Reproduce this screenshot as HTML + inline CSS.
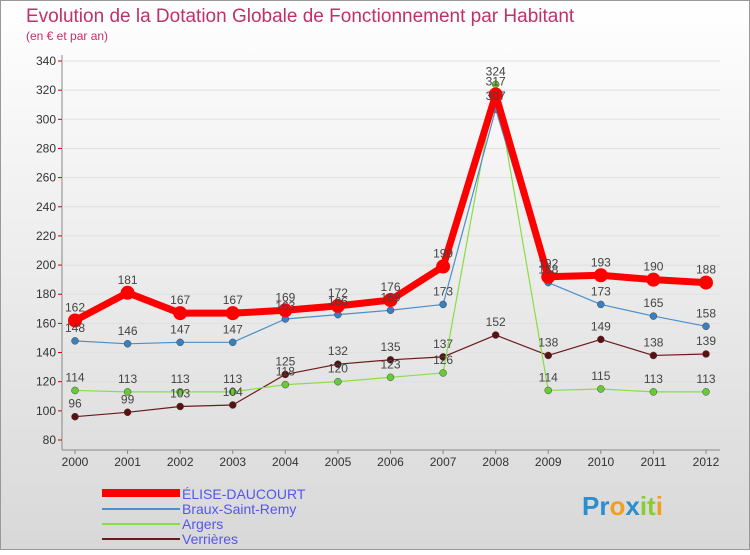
<!DOCTYPE html>
<html><head><meta charset="utf-8"><style>
body{margin:0;width:750px;height:550px;overflow:hidden;font-family:"Liberation Sans",sans-serif}
</style></head><body>
<svg width="750" height="550" xmlns="http://www.w3.org/2000/svg">
<defs><linearGradient id="bg" x1="0" y1="0" x2="0" y2="1"><stop offset="0" stop-color="#ffffff"/><stop offset="1" stop-color="#d8d8d8"/></linearGradient></defs>
<rect x="0" y="0" width="750" height="550" fill="url(#bg)"/>
<rect x="0.5" y="0.5" width="749" height="549" fill="none" stroke="#999"/>
<text x="26" y="22" font-size="19" fill="#c0306a">Evolution de la Dotation Globale de Fonctionnement par Habitant</text>
<text x="26" y="40" font-size="12" fill="#c0306a">(en € et par an)</text>
<g id="grid"></g><g id="series"></g><g id="labels"></g>
<g font-size="14">
<line x1="102" y1="493" x2="180" y2="493" stroke="#ff0000" stroke-width="8"/><text x="182" y="499" fill="#5555ee">ÉLISE-DAUCOURT</text>
<line x1="102" y1="509" x2="180" y2="509" stroke="#4a90cc" stroke-width="2"/><text x="182" y="514" fill="#5555ee">Braux-Saint-Remy</text>
<line x1="102" y1="524" x2="180" y2="524" stroke="#88dd44" stroke-width="2"/><text x="182" y="529" fill="#5555ee">Argers</text>
<line x1="102" y1="539" x2="180" y2="539" stroke="#6b1a1a" stroke-width="2"/><text x="182" y="544" fill="#5555ee">Verrières</text>
</g>
<text x="582" y="515" font-size="26" font-weight="bold"><tspan fill="#2a8fd0">Pr</tspan><tspan fill="#f0a020">o</tspan><tspan fill="#2a8fd0">x</tspan><tspan fill="#88cc33">it</tspan><tspan fill="#f0a020">i</tspan></text>
</svg>
<script>
const years=[2000,2001,2002,2003,2004,2005,2006,2007,2008,2009,2010,2011,2012];
const elise=[162,181,167,167,169,172,176,199,317,192,193,190,188];
const braux=[148,146,147,147,163,166,169,173,307,188,173,165,158];
const argers=[114,113,113,113,118,120,123,126,324,114,115,113,113];
const verrieres=[96,99,103,104,125,132,135,137,152,138,149,138,139];
const yTicks=[80,100,120,140,160,180,200,220,240,260,280,300,320,340];
const NS="http://www.w3.org/2000/svg";
const x=i=>75+i*(706-75)/12;
const y=v=>440-(v-80)*(440-61)/260;
function mk(t,a,p){const e=document.createElementNS(NS,t);for(const k in a)e.setAttribute(k,a[k]);p.appendChild(e);return e;}
const g=document.getElementById('grid'),s=document.getElementById('series'),L=document.getElementById('labels');
const ax=mk('line',{x1:62,y1:55,x2:62,y2:450,stroke:'#888'},g);

const bx=mk('line',{x1:62,y1:450,x2:720,y2:450,stroke:'#888'},g);

yTicks.forEach(v=>{
 const gl=mk('line',{x1:62,y1:y(v),x2:720,y2:y(v),stroke:'#e0e0e0'},g);
 
 mk('line',{x1:58,y1:y(v),x2:62,y2:y(v),stroke:'#c00'},g);
 const t=mk('text',{x:56,y:y(v)+4,'text-anchor':'end','font-size':12,fill:'#333'},g);t.textContent=v;
 
});
years.forEach((yr,i)=>{
 mk('line',{x1:x(i),y1:450,x2:x(i),y2:454,stroke:'#888'},g);
 const t=mk('text',{x:x(i),y:466,'text-anchor':'middle','font-size':12,fill:'#333'},g);t.textContent=yr;
 
});
const defs=[['verrieres',verrieres,'#6b1a1a',1.2,3.5,'#5a1010'],['argers',argers,'#88dd44',1.2,3.5,'#66cc33'],['braux',braux,'#4a90cc',1.2,3.5,'#3a80c0'],['elise',elise,'#ff0000',7,7,'#ff0000']];
defs.forEach(([n,d,c,w,r,f])=>{
 const p=mk('polyline',{points:d.map((v,i)=>x(i)+','+y(v)).join(' '),fill:'none',stroke:c,'stroke-width':w,'stroke-linejoin':'round'},s);
 
 d.forEach((v,i)=>{
  const ci=mk('circle',{cx:x(i),cy:y(v),r:r,fill:f,stroke:r<5?'#444':'none','stroke-width':0.5},s);
  
  const t=mk('text',{x:x(i),y:y(v)-9,'text-anchor':'middle','font-size':12,fill:'#444'},L);t.textContent=v;
  
 });
});
</script>
</body></html>
